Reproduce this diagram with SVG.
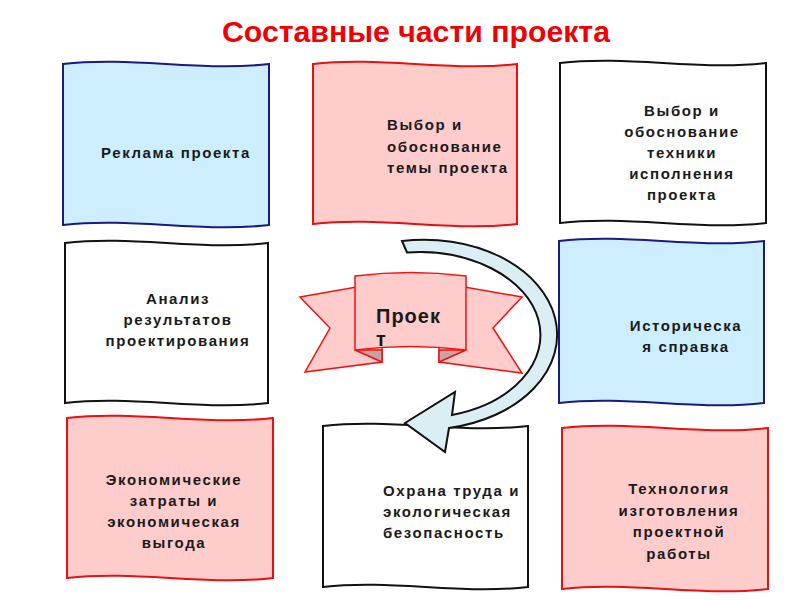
<svg xmlns="http://www.w3.org/2000/svg" width="800" height="600" viewBox="0 0 800 600">
<style>
.blue{fill:#cceeff;stroke:#1a1a80;stroke-width:2}
.pink{fill:#ffcccc;stroke:#e81010;stroke-width:2}
.white{fill:#ffffff;stroke:#111111;stroke-width:2}
.t{font-family:"Liberation Sans",Arial,sans-serif;font-size:15px;font-weight:bold;fill:#1a1a1a;letter-spacing:1.6px}
.c{text-anchor:middle}
.title{font-family:"Liberation Sans",Arial,sans-serif;font-size:29px;font-weight:bold;fill:#f00000}
.rib{fill:#ffcccc;stroke:#f01010;stroke-width:1.5;stroke-linejoin:miter}
.fold{fill:#c4a4a4;stroke:#f01010;stroke-width:1.5}
.arrow{fill:#daeef4;stroke:#111111;stroke-width:2;stroke-linejoin:miter}
</style>
<rect width="800" height="600" fill="#ffffff"/>
<text class="title" x="222" y="42" textLength="388" lengthAdjust="spacingAndGlyphs">Составные части проекта</text>

<g id="node-reklama">
<path class="blue" d="M63,64 C131.7,56 200.3,72 269,64 L269,225 C200.3,233 131.7,217 63,225 Z"/>
<text class="t" x="101" y="158">Реклама проекта</text>
</g>

<g id="node-vybor-temy">
<path class="pink" d="M313,64 C381,56 449,72 517,64 L517,224 C449,232 381,216 313,224 Z"/>
<text class="t" x="387" y="130">Выбор и</text>
<text class="t" x="387" y="151.5">обоснование</text>
<text class="t" x="387" y="173">темы проекта</text>
</g>

<g id="node-vybor-tekhniki">
<path class="white" d="M560,63 C628.7,55 697.3,71 766,63 L766,223 C697.3,231 628.7,215 560,223 Z"/>
<text class="t c" x="682" y="115.5">Выбор и</text>
<text class="t c" x="682" y="136.5">обоснование</text>
<text class="t c" x="682" y="157.5">техники</text>
<text class="t c" x="682" y="178.5">исполнения</text>
<text class="t c" x="682" y="199.5">проекта</text>
</g>

<g id="node-analiz">
<path class="white" d="M65,243 C132.7,235 200.3,251 268,243 L268,403 C200.3,411 132.7,395 65,403 Z"/>
<text class="t c" x="178" y="304">Анализ</text>
<text class="t c" x="178" y="325">результатов</text>
<text class="t c" x="178" y="346">проектирования</text>
</g>

<g id="node-istoricheskaya">
<path class="blue" d="M559,241 C627.3,233 695.7,249 764,241 L764,403 C695.7,411 627.3,395 559,403 Z"/>
<text class="t c" x="686" y="331">Историческа</text>
<text class="t c" x="686" y="352">я справка</text>
</g>

<g id="node-ekonomicheskie">
<path class="pink" d="M67,418 C135.7,410 204.3,426 273,418 L273,578 C204.3,586 135.7,570 67,578 Z"/>
<text class="t c" x="174" y="485">Экономические</text>
<text class="t c" x="174" y="506">затраты и</text>
<text class="t c" x="174" y="527">экономическая</text>
<text class="t c" x="174" y="548">выгода</text>
</g>

<g id="node-okhrana">
<path class="white" d="M323,426 C391.3,418 459.7,434 528,426 L528,587 C459.7,595 391.3,579 323,587 Z"/>
<text class="t" x="383" y="496">Охрана труда и</text>
<text class="t" x="383" y="517">экологическая</text>
<text class="t" x="383" y="538">безопасность</text>
</g>

<g id="node-tekhnologiya">
<path class="pink" d="M562,428 C630.7,420 699.3,436 768,428 L768,589 C699.3,597 630.7,581 562,589 Z"/>
<text class="t c" x="679" y="494">Технология</text>
<text class="t c" x="679" y="515.5">изготовления</text>
<text class="t c" x="679" y="537">проектной</text>
<text class="t c" x="679" y="558.5">работы</text>
</g>

<g id="node-proekt">
<polygon class="rib" points="300,297 362,286 382,330 382,362 305,372 330,328"/>
<polygon class="rib" points="522,297 459,286 439,330 439,362 522,373 493,328"/>
<polygon class="fold" points="355,350 382,350 382,362"/>
<polygon class="fold" points="466,350 439,350 439,362"/>
<path class="rib" d="M355,276 Q410.5,269 466,276 L466,350 Q410.5,343 355,350 Z"/>
<text x="376" y="323" style="font-family:'Liberation Sans',Arial,sans-serif;font-size:20px;font-weight:bold;fill:#1a1a1a;letter-spacing:1px">Проек</text>
<text x="376" y="346" style="font-family:'Liberation Sans',Arial,sans-serif;font-size:20px;font-weight:bold;fill:#1a1a1a">т</text>
</g>

<g id="connectors">
<path class="arrow" d="M402,241 A133,95 0 0 1 449,428 L445,452 L405,423 L455,392 L452,415 A121,83 0 0 0 407,252.5 Z"/>
</g>
</svg>
